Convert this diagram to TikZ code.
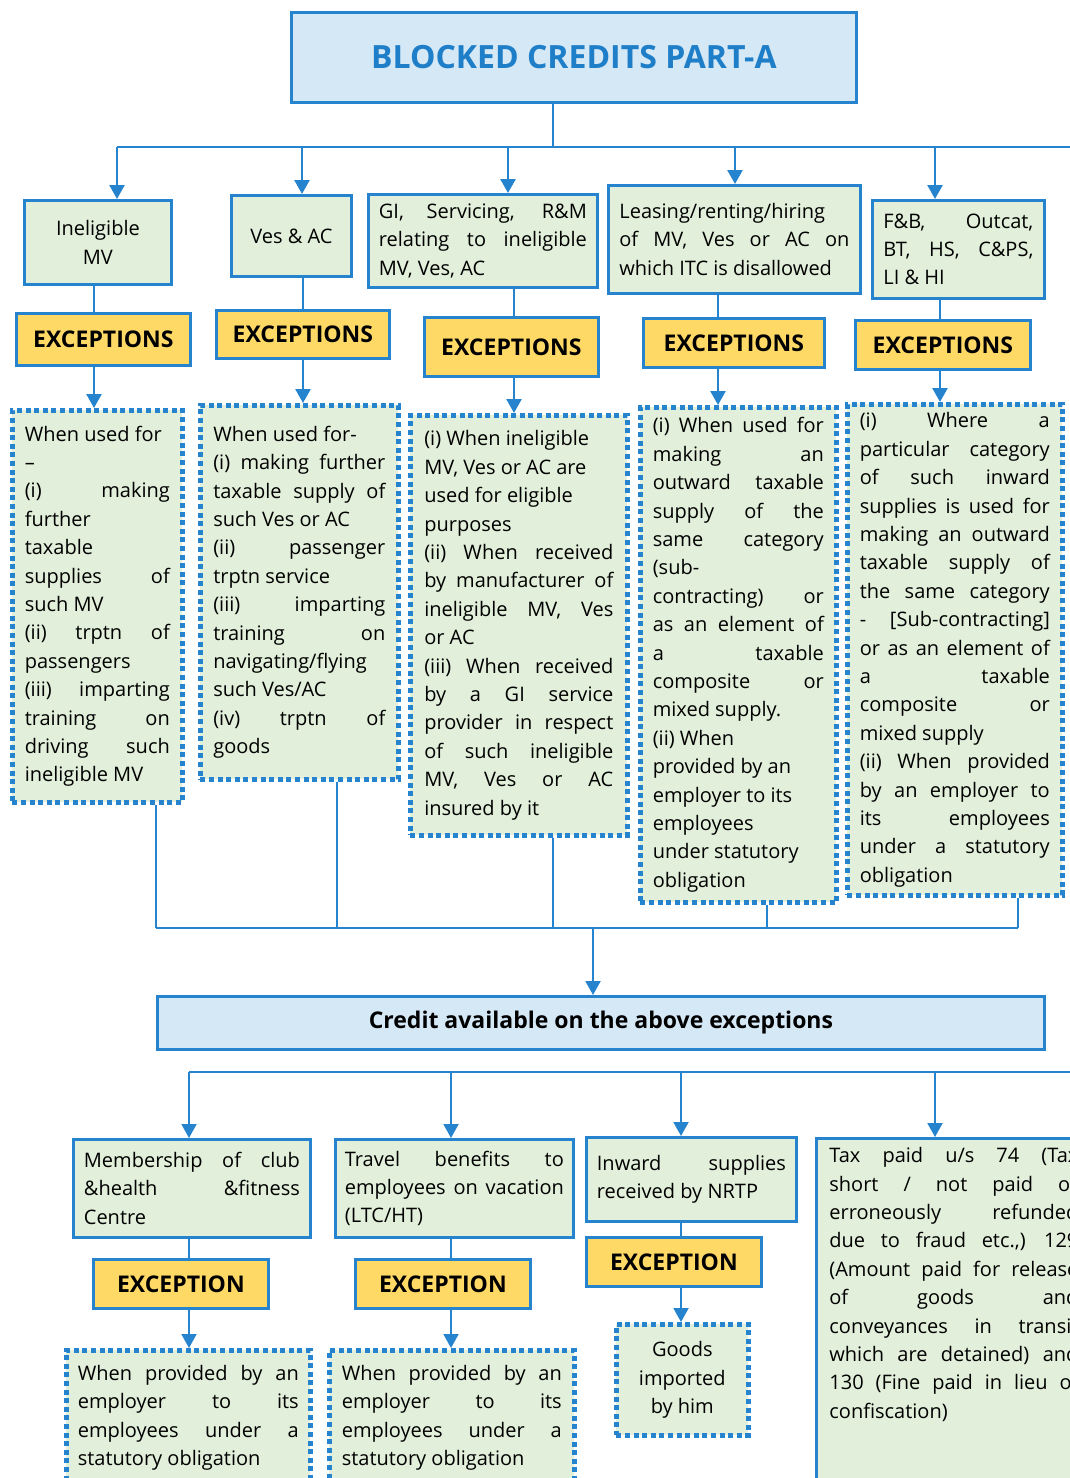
\documentclass[tikz,border=0pt]{standalone}
\usepackage{fontspec}
\setmainfont{Open Sans}
\usetikzlibrary{arrows.meta}
\definecolor{edgeblue}{RGB}{38,132,206}
\definecolor{headfill}{RGB}{213,232,246}
\definecolor{headtext}{RGB}{30,126,200}
\definecolor{itemgreen}{RGB}{226,239,218}
\definecolor{excyellow}{RGB}{255,217,102}
\begin{document}
\begin{tikzpicture}[x=1pt, y=-1pt,
    font=\fontsize{20}{28.4}\selectfont,
    conn/.style={draw=edgeblue, line width=2.6pt},
    arr/.style={conn, -{Triangle[width=15pt, length=14pt]}},
    solidbox/.style={draw=edgeblue, line width=2.8pt, anchor=north west, inner sep=0pt},
    headbox/.style={solidbox, fill=headfill},
    itembox/.style={solidbox, fill=itemgreen},
    excbox/.style={solidbox, fill=excyellow, font=\fontsize{23}{26}\selectfont\bfseries},
    dotbox/.style={draw=edgeblue, line width=4.6pt, dash pattern=on 5pt off 3.6pt,
        fill=itemgreen, anchor=north west, inner sep=0pt},
    boxsize/.style 2 args={minimum width=#1, minimum height=#2},
    txt/.style={text width=#1, align=justify}
  ]
  \useasboundingbox (0,0) rectangle (1070,1478);
  \clip (0,0) rectangle (1070,1478);

  \node[headbox, boxsize={565}{90}, text=headtext, font=\fontsize{32}{36}\selectfont\bfseries]
      (title) at (290,11) {BLOCKED CREDITS PART-A};

  % heads of the blocked items
  \node[itembox, boxsize={147}{84}, align=center] (t1) at (23,199) {Ineligible\\MV};
  \node[itembox, boxsize={120}{81}] (t2) at (230,194) {Ves \& AC};
  \node[itembox, boxsize={229}{93}, txt=208] (t3) at (367,193)
      {GI, Servicing, R\&M\linebreak relating to ineligible\linebreak MV, Ves, AC};
  \node[itembox, boxsize={252}{108}, txt=230] (t4) at (607,184)
      {Leasing/renting/hiring\\ of MV, Ves or AC on\linebreak which ITC is disallowed};
  \node[itembox, boxsize={172}{98}, txt=150] (t5) at (871,199)
      {F\&B, Outcat,\linebreak BT, HS, C\&PS,\linebreak LI \& HI};

  \node[excbox, boxsize={174}{52}] (e1) at (15,312) {EXCEPTIONS};
  \node[excbox, boxsize={173}{48}] (e2) at (215,309) {EXCEPTIONS};
  \node[excbox, boxsize={174}{59}] (e3) at (423,316) {EXCEPTIONS};
  \node[excbox, boxsize={181}{49}] (e4) at (642,317) {EXCEPTIONS};
  \node[excbox, boxsize={175}{49}] (e5) at (854,319) {EXCEPTIONS};

  \node[dotbox, boxsize={170}{392}, txt=145] (d1) at (10,408)
      {When used for\\ --\\
       (i) making\linebreak further\linebreak taxable\linebreak supplies of\linebreak such MV\\
       (ii) trptn of\linebreak passengers\\
       (iii) imparting\linebreak training on\linebreak driving such\linebreak ineligible MV};
  \node[dotbox, boxsize={198}{374}, txt=172] (d2) at (198,403)
      {When used for-\\
       (i) making further\linebreak taxable supply of\linebreak such Ves or AC\\
       (ii) passenger\linebreak trptn service\\
       (iii) imparting\linebreak training on\linebreak navigating/flying\linebreak such Ves/AC\\
       (iv) trptn of\linebreak goods};
  \node[dotbox, boxsize={217}{420}, txt=189] (d3) at (408,413)
      {(i) When ineligible\\ MV, Ves or AC are\\ used for eligible\\ purposes\\
       (ii) When received\linebreak by manufacturer of\linebreak ineligible MV, Ves\linebreak or AC\\
       (iii) When received\linebreak by a GI service\linebreak provider in respect\linebreak
       of such ineligible\linebreak MV, Ves or AC\linebreak insured by it};
  \node[dotbox, boxsize={196}{495}, txt=171] (d4) at (638,405)
      {(i) When used for\linebreak making an\linebreak outward taxable\linebreak supply of the\linebreak
       same category\linebreak (sub-\\ contracting) or\linebreak as an element of\linebreak
       a taxable\linebreak composite or\linebreak mixed supply.\\
       (ii) When\\ provided by an\\ employer to its\\ employees\\ under statutory\\ obligation};
  \node[dotbox, boxsize={215}{491}, txt=190] (d5) at (845,402)
      {(i) Where a\linebreak particular category\linebreak of such inward\linebreak
       supplies is used for\linebreak making an outward\linebreak taxable supply of\linebreak
       the same category\linebreak - [Sub-contracting]\linebreak or as an element of\linebreak
       a taxable\linebreak composite or\linebreak mixed supply\\
       (ii) When provided\linebreak by an employer to\linebreak its employees\linebreak
       under a statutory\linebreak obligation};

  \node[headbox, boxsize={887}{53}, font=\fontsize{23}{26}\selectfont\bfseries]
      (credit) at (156,995) {Credit available on the above exceptions};

  % second row
  \node[itembox, boxsize={237}{98}, txt=216] (b1) at (72,1138)
      {Membership of club\linebreak \&health \&fitness\linebreak Centre};
  \node[itembox, boxsize={238}{98}, txt=219] (b2) at (334,1138)
      {Travel benefits to\linebreak employees on vacation\linebreak (LTC/HT)};
  \node[itembox, boxsize={210}{84}, txt=189] (b3) at (585,1136)
      {Inward supplies\linebreak received by NRTP};
  \node[itembox, minimum width=275, inner xsep=11pt, inner ysep=9pt] (b4) at (815,1137)
      {\parbox[t][360pt][t]{249pt}{Tax paid u/s 74 (Tax\linebreak short / not paid or\linebreak
       erroneously refunded\linebreak due to fraud etc.,) 129\linebreak (Amount paid for release\linebreak
       of goods and\linebreak conveyances in transit\linebreak which are detained) and\linebreak
       130 (Fine paid in lieu of\linebreak confiscation)}};

  \node[excbox, boxsize={175}{49}] (x1) at (92,1258) {EXCEPTION};
  \node[excbox, boxsize={175}{49}] (x2) at (354,1258) {EXCEPTION};
  \node[excbox, boxsize={175}{49}] (x3) at (585,1236) {EXCEPTION};

  \node[dotbox, boxsize={244}{135}, txt=221] (p1) at (64,1348)
      {When provided by an\linebreak employer to its\linebreak employees under a\linebreak statutory obligation};
  \node[dotbox, boxsize={245}{135}, txt=220] (p2) at (327,1348)
      {When provided by an\linebreak employer to its\linebreak employees under a\linebreak statutory obligation};
  \node[dotbox, boxsize={132}{111}, align=center] (p3) at (614,1322) {Goods\\imported\\by him};

  % upper connectors
  \coordinate (hub) at (553,147);
  \coordinate (a1) at (117,147);
  \coordinate (a2) at (302,147);
  \coordinate (a3) at (508,147);
  \coordinate (a4) at (735,147);
  \coordinate (a5) at (935,147);
  \coordinate (aR) at (1075,147);
  \draw[conn] (hub |- title.south) -- (hub);
  \draw[conn] (a1) -- (aR);
  \draw[arr] (a1) -- (a1 |- t1.north);
  \draw[arr] (a2) -- (a2 |- t2.north);
  \draw[arr] (a3) -- (a3 |- t3.north);
  \draw[arr] (a4) -- (a4 |- t4.north);
  \draw[arr] (a5) -- (a5 |- t5.north);

  \coordinate (k1) at (94,0);
  \coordinate (k2) at (303,0);
  \coordinate (k3) at (514,0);
  \coordinate (k4) at (718,0);
  \coordinate (k5) at (940,0);
  \draw[conn] (t1.south -| k1) -- (e1.north -| k1);
  \draw[conn] (t2.south -| k2) -- (e2.north -| k2);
  \draw[conn] (t3.south -| k3) -- (e3.north -| k3);
  \draw[conn] (t4.south -| k4) -- (e4.north -| k4);
  \draw[conn] (t5.south -| k5) -- (e5.north -| k5);
  \draw[arr] (e1.south -| k1) -- (d1.north -| k1);
  \draw[arr] (e2.south -| k2) -- (d2.north -| k2);
  \draw[arr] (e3.south -| k3) -- (d3.north -| k3);
  \draw[arr] (e4.south -| k4) -- (d4.north -| k4);
  \draw[arr] (e5.south -| k5) -- (d5.north -| k5);

  \coordinate (m1) at (156,928);
  \coordinate (m2) at (337,928);
  \coordinate (m3) at (553,928);
  \coordinate (m4) at (767,928);
  \coordinate (m5) at (1018,928);
  \coordinate (mid) at (593,928);
  \draw[conn, line width=2pt] (d1.south -| m1) -- (m1);
  \draw[conn, line width=2pt] (d2.south -| m2) -- (m2);
  \draw[conn, line width=2pt] (d3.south -| m3) -- (m3);
  \draw[conn, line width=2pt] (d4.south -| m4) -- (m4);
  \draw[conn, line width=2pt] (d5.south -| m5) -- (m5);
  \draw[conn] (m1) -- (m5);
  \draw[arr, line width=2pt] (mid) -- (mid |- credit.north);

  % lower connectors
  \coordinate (n1) at (189,1072);
  \coordinate (n2) at (451,1072);
  \coordinate (n3) at (681,1072);
  \coordinate (n4) at (935,1072);
  \coordinate (nR) at (1075,1072);
  \draw[conn] (n1) -- (nR);
  \draw[arr, line width=2pt] (n1) -- (n1 |- b1.north);
  \draw[arr, line width=2pt] (n2) -- (n2 |- b2.north);
  \draw[arr, line width=2pt] (n3) -- (n3 |- b3.north);
  \draw[arr, line width=2pt] (n4) -- (n4 |- b4.north);
  \draw[conn, line width=2pt] (b1.south -| n1) -- (x1.north -| n1);
  \draw[conn, line width=2pt] (b2.south -| n2) -- (x2.north -| n2);
  \draw[conn, line width=2pt] (b3.south -| n3) -- (x3.north -| n3);
  \draw[arr, line width=2pt] (x1.south -| n1) -- (p1.north -| n1);
  \draw[arr, line width=2pt] (x2.south -| n2) -- (p2.north -| n2);
  \draw[arr, line width=2pt] (x3.south -| n3) -- (p3.north -| n3);
\end{tikzpicture}
\end{document}
